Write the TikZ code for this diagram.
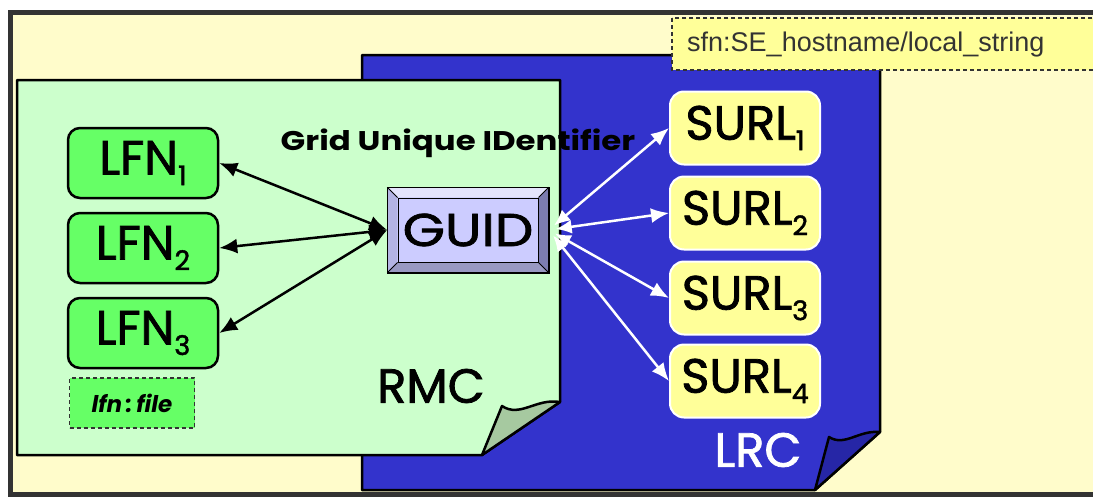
\documentclass[tikz,border=0pt]{standalone}
\usepackage{fontspec}
\setmainfont{Poppins}
\newfontfamily\comic{Poppins}[FakeBold=1.6]
\newfontfamily\sfnfont{Liberation Sans}
\usetikzlibrary{arrows.meta}
\definecolor{cream}{HTML}{FFFCCB}
\definecolor{framegray}{HTML}{333333}
\definecolor{paperblue}{HTML}{3333CC}
\definecolor{flapblue}{HTML}{2626A6}
\definecolor{papergreen}{HTML}{CCFFCC}
\definecolor{flapgreen}{HTML}{A6C9A0}
\definecolor{lfngreen}{HTML}{66FF66}
\definecolor{surlyellow}{HTML}{FFFF99}
\definecolor{guidfill}{HTML}{CCCCFF}
\definecolor{guidlight}{HTML}{E4E4FC}
\definecolor{guidmid}{HTML}{B4B4E4}
\definecolor{guiddark}{HTML}{7C7CB0}
\newcommand{\subdig}[1]{\raisebox{-0.22em}{\fontsize{27}{27}\selectfont #1}}
\tikzset{
  paper/.style={draw=black, line width=2.5pt, line join=round},
  lfnbox/.style={draw=black, line width=2.5pt, fill=lfngreen, rounded corners=12pt,
    minimum width=150pt, minimum height=70pt, inner sep=0pt,
    font=\comic\fontsize{48}{48}\selectfont},
  surlbox/.style={draw=white, line width=2pt, fill=surlyellow, rounded corners=14pt,
    minimum width=150pt, minimum height=73pt, inner sep=0pt,
    font=\comic\fontsize{48}{48}\selectfont},
  tagbox/.style={draw=framegray, dashed, line width=1.5pt, dash pattern=on 4pt off 3pt},
  blkarrow/.style={draw=black, line width=2.5pt,
    {Latex[length=18pt,width=15pt]}-{Latex[length=18pt,width=15pt]}},
  whtarrow/.style={draw=white, line width=2.5pt,
    {Latex[length=16pt,width=14pt]}-{Latex[length=18pt,width=15pt]}},
  bigword/.style={font=\comic\fontsize{48}{48}\selectfont, inner sep=0pt},
}
\begin{document}
\begin{tikzpicture}[x=1pt, y=-1pt]
\useasboundingbox (0,0) rectangle (1093,498);
\clip (0,0) rectangle (1093,498);
% outer frame
\draw[draw=framegray, line width=5pt, fill=cream] (10,12) rectangle (1110,494);
% LRC paper
\draw[paper, fill=paperblue] (362,55) -- (880,55) -- (880,432) -- (815,490) -- (362,490) -- cycle;
\draw[paper, fill=flapblue] (815,490) -- (829,437) .. controls (845,447) and (858,430) .. (880,432) -- cycle;
% sfn tag
\draw[tagbox, fill=surlyellow] (672,18) rectangle (1110,70);
\node[anchor=west, inner sep=0pt, font=\sfnfont\fontsize{27}{27}\selectfont, text=black!80] (sfn) at (687,45) {sfn:SE\_hostname/local\_string};
% RMC paper
\draw[paper, fill=papergreen] (17,80) -- (560,80) -- (560,402) -- (482,455) -- (17,455) -- cycle;
\draw[paper, fill=flapgreen] (482,455) -- (502,406) .. controls (520,418) and (536,398) .. (560,402) -- cycle;
% LFN boxes
\node[lfnbox] (lfn1) at (143,163) {LFN\subdig{1}};
\node[lfnbox] (lfn2) at (143,248) {LFN\subdig{2}};
\node[lfnbox] (lfn3) at (143,333) {LFN\subdig{3}};
\node[tagbox, fill=lfngreen, minimum width=125pt, minimum height=50pt, inner sep=0pt,
  font=\fontsize{23}{23}\selectfont\bfseries\itshape] (lfnfile) at (132,403) {lfn\,:\,file};
% GUID
\node[draw=black, line width=1.5pt, fill=guidfill, minimum width=160pt, minimum height=84pt, inner sep=0pt] (guid) at (468,230) {};
\fill[guidlight] (guid.north west) -- (guid.north east) -- ([shift={(-10,10)}]guid.north east) -- ([shift={(10,10)}]guid.north west) -- cycle;
\fill[guidmid] (guid.north west) -- ([shift={(10,10)}]guid.north west) -- ([shift={(10,-10)}]guid.south west) -- (guid.south west) -- cycle;
\fill[guiddark] (guid.north east) -- (guid.south east) -- ([shift={(-10,-10)}]guid.south east) -- ([shift={(-10,10)}]guid.north east) -- cycle;
\fill[guidmid!85!black] (guid.south west) -- (guid.south east) -- ([shift={(-10,-10)}]guid.south east) -- ([shift={(10,-10)}]guid.south west) -- cycle;
\node[draw=black, line width=1pt, fill=guidfill, minimum width=140pt, minimum height=64pt, inner sep=0pt,
  font=\comic\fontsize{46}{46}\selectfont] (guidin) at (guid.center) {\scalebox{1.18}[1]{GUID}};
\draw[black, line width=1.5pt] (guid.north west) rectangle (guid.south east);
\draw[black, line width=0.8pt] (guid.north west) -- (guidin.north west) (guid.north east) -- (guidin.north east)
  (guid.south west) -- (guidin.south west) (guid.south east) -- (guidin.south east);
% SURL boxes
\node[surlbox] (surl1) at (745,128) {SURL\subdig{1}};
\node[surlbox] (surl2) at (745,213) {SURL\subdig{2}};
\node[surlbox] (surl3) at (745,298) {SURL\subdig{3}};
\node[surlbox] (surl4) at (745,381) {SURL\subdig{4}};
% title
\node[font=\bfseries\fontsize{27}{27}\selectfont, inner sep=0pt] (gui) at (458,143) {\scalebox{1.2}[1]{Grid Unique IDentifier}};
% paper labels
\node[bigword] (rmc) at (431,386) {RMC};
\node[bigword, text=white] (lrc) at (758,450) {LRC};
% arrows
\draw[blkarrow] (lfn1.east) -- (guid.west);
\draw[blkarrow] (lfn2.east) -- (guid.west);
\draw[blkarrow] (lfn3.east) -- (guid.west);
\draw[whtarrow, shorten <=7pt] (guid.east) -- (surl1.west);
\draw[whtarrow, shorten <=7pt] (guid.east) -- (surl2.west);
\draw[whtarrow, shorten <=7pt] (guid.east) -- (surl3.west);
\draw[whtarrow, shorten <=7pt] (guid.east) -- (surl4.west);
\end{tikzpicture}
\end{document}
